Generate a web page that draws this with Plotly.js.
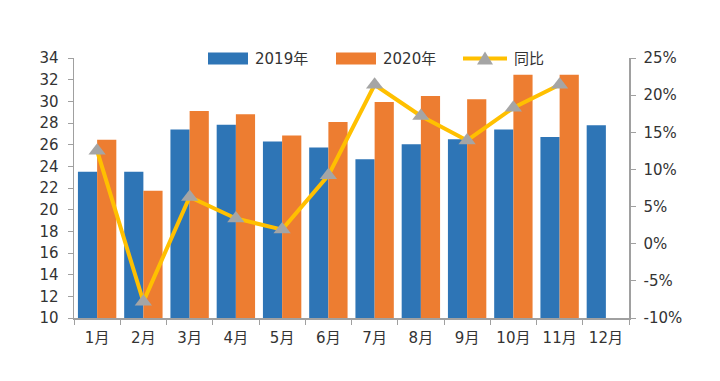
<!DOCTYPE html>
<html>
<head>
<meta charset="utf-8">
<script src="https://cdn.plot.ly/plotly-3.0.1.min.js"></script>
<style>html,body{margin:0;padding:0;background:#fff;}#chart{width:720px;height:381px;}</style>
</head>
<body>
<div id="chart"></div>
<script>
const months = ['1月','2月','3月','4月','5月','6月','7月','8月','9月','10月','11月','12月'];
const v2019 = [23.5, 23.5, 27.4, 27.85, 26.3, 25.75, 24.65, 26.05, 26.5, 27.4, 26.7, 27.8];
const v2020 = [26.45, 21.75, 29.1, 28.8, 26.85, 28.1, 29.95, 30.5, 30.2, 32.45, 32.45];
const yoy = [12.5, -7.8, 6.3, 3.4, 1.9, 9.2, 21.4, 17.2, 13.9, 18.3, 21.4];
const leftTicks = [10,12,14,16,18,20,22,24,26,28,30,32,34];
const rightTicks = [-10,-5,0,5,10,15,20,25];
const rightLabels = ['-10%','-5%','0%','5%','10%','15%','20%','25%'];
const names = ['2019年','2020年','同比'];

const font = "DejaVu Sans, 'Noto Sans CJK SC', sans-serif";
const axisColor = '#a0a0a0';
const blue = '#2E75B6', orange = '#ED7D31', gold = '#FFC000', grey = '#A5A5A5';

const traces = [
  {type:'bar', x:months, y:v2019, name:names[0], marker:{color:blue}, showlegend:false},
  {type:'bar', x:months.slice(0, v2020.length), y:v2020, name:names[1], marker:{color:orange}, showlegend:false},
  {type:'scatter', mode:'lines+markers', x:months.slice(0, yoy.length), y:yoy, name:names[2], yaxis:'y2',
   line:{color:gold, width:4}, marker:{symbol:'triangle-up', size:15, color:grey}, showlegend:false, cliponaxis:false}
];

// custom legend helpers (paper coords)
const L = 74, R = 629, T = 58, B = 318;
const px = x => (x - L) / (R - L);
const py = y => (B - y) / (B - T);
const ly = 58.5;
const shapes = [
  {type:'rect', xref:'paper', yref:'paper', x0:px(208), x1:px(248), y0:py(64.5), y1:py(52.5), fillcolor:blue, line:{width:0}},
  {type:'rect', xref:'paper', yref:'paper', x0:px(336), x1:px(376), y0:py(64.5), y1:py(52.5), fillcolor:orange, line:{width:0}},
  {type:'line', xref:'paper', yref:'paper', x0:px(463), x1:px(507), y0:py(ly), y1:py(ly), line:{color:gold, width:4}},
  {type:'path', xref:'paper', yref:'paper',
   path:`M ${px(477)} ${py(ly+6)} L ${px(493)} ${py(ly+6)} L ${px(485)} ${py(ly-7)} Z`,
   fillcolor:grey, line:{width:0}}
];
const annotations = [
  {xref:'paper', yref:'paper', x:px(253), y:py(ly), xanchor:'left', yanchor:'middle', text:names[0], showarrow:false, font:{size:15, color:'#333', family:font}},
  {xref:'paper', yref:'paper', x:px(381), y:py(ly), xanchor:'left', yanchor:'middle', text:names[1], showarrow:false, font:{size:15, color:'#333', family:font}},
  {xref:'paper', yref:'paper', x:px(512), y:py(ly), xanchor:'left', yanchor:'middle', text:names[2], showarrow:false, font:{size:15, color:'#333', family:font}}
];

const layout = {
  width:720, height:381,
  margin:{l:L, r:720-R, t:T, b:381-B, pad:0},
  paper_bgcolor:'#fff', plot_bgcolor:'#fff',
  font:{family:font, size:15, color:'#333'},
  barmode:'group', bargap:0.17, bargroupgap:0,
  showlegend:false,
  xaxis:{type:'category', categoryorder:'array', categoryarray:months, range:[-0.5, months.length-0.5], showline:true, linecolor:axisColor, linewidth:1.5,
         ticks:'outside', tickson:'boundaries', ticklen:5, tickcolor:axisColor, showgrid:false, zeroline:false,
         ticklabelstandoff:5, tickfont:{size:15, color:'#333'}},
  yaxis:{range:[10,34], tickvals:leftTicks, showline:true, linecolor:axisColor, linewidth:1.5, ticks:'outside', ticklen:5,
         tickcolor:axisColor, showgrid:false, zeroline:false, ticklabelstandoff:6, tickfont:{size:15, color:'#333'}},
  yaxis2:{overlaying:'y', side:'right', range:[-10,25], tickvals:rightTicks, ticktext:rightLabels, showline:true, linecolor:axisColor,
          linewidth:1.5, ticks:'outside', ticklen:5, tickcolor:axisColor, showgrid:false, zeroline:false, ticklabelstandoff:5, tickfont:{size:15, color:'#333'}},
  shapes:shapes, annotations:annotations
};

Plotly.newPlot('chart', traces, layout, {staticPlot:true, displayModeBar:false});
</script>
</body>
</html>
